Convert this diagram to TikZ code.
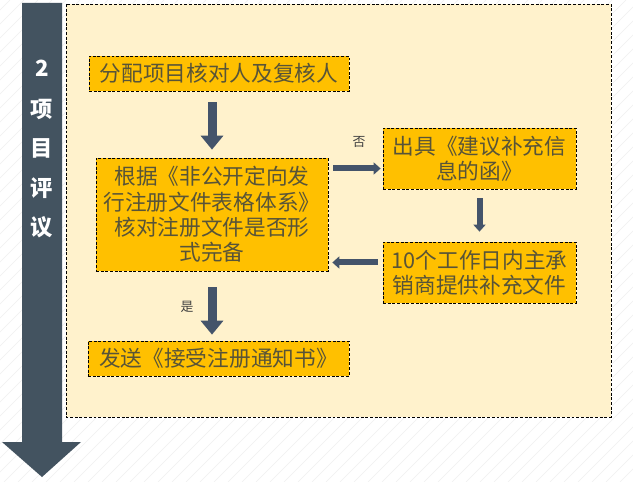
\documentclass[tikz,border=0pt]{standalone}
\usepackage{fontspec}
\setmainfont{Noto Sans CJK SC}
\usetikzlibrary{arrows.meta}
\definecolor{panel}{HTML}{FFF2CC}
\definecolor{boxfill}{HTML}{FFC000}
\definecolor{slate}{HTML}{44546A}
\definecolor{sidec}{HTML}{435360}
\definecolor{txt}{HTML}{585438}
\begin{document}
\begin{tikzpicture}[x=0.03cm,y=-0.03cm,
  box/.style={draw=black,line width=0.6pt,dash pattern=on 2.5pt off 1.5pt,fill=boxfill,text=txt,
    font=\fontsize{18.5}{21.7}\selectfont,align=center,inner sep=0pt},
  bigarrow/.style={draw=slate,line width=0.27cm,-{Triangle[width=0.66cm,length=0.42cm]}},
  smallarrow/.style={draw=slate,line width=0.18cm,-{Triangle[width=0.36cm,length=0.21cm]}},
  lbl/.style={font=\fontsize{11}{13}\selectfont,text=black!75,inner sep=0pt},
  sidetxt/.style={font=\fontsize{19}{21}\selectfont\bfseries,text=white,inner sep=0pt}]
\useasboundingbox (0,0) rectangle (633,482);
\fill[white] (0,0) rectangle (633,482);
\begin{scope}
  \clip (0,0) rectangle (633,482);
  \foreach \k in {-500,-486,...,640} \draw[black!6,line width=0.4pt] (\k,482) -- (\k+482,0);
\end{scope}
% sidebar arrow
\fill[sidec] (22,3) -- (62,3) -- (62,442) -- (81,442) -- (42,477) -- (2,442) -- (22,442) -- cycle;
\node[sidetxt] (s0) at (42,68) {2};
\node[sidetxt] (s1) at (42,109) {项};
\node[sidetxt] (s2) at (42,148) {目};
\node[sidetxt] (s3) at (42,188) {评};
\node[sidetxt] (s4) at (42,227) {议};
% panel
\draw[black,line width=0.5pt,dash pattern=on 2.5pt off 1.5pt,fill=panel] (66,4) rectangle (611,417);
% boxes
\node[box,minimum width=7.8cm,minimum height=1.05cm] (b1) at (219,73.5) {分配项目核对人及复核人};
\node[box,minimum width=6.96cm,minimum height=3.39cm] (b2) at (212,214.5)
  {根据《非公开定向发\\行注册文件表格体系》\\核对注册文件是否形\\式完备};
\node[box,minimum width=5.79cm,minimum height=1.83cm] (b3) at (479.5,158.5) {出具《建议补充信\\息的函》};
\node[box,minimum width=5.79cm,minimum height=1.83cm] (b4) at (479.5,272.5) {10个工作日内主承\\销商提供补充文件};
\node[box,minimum width=7.83cm,minimum height=1.05cm] (b5) at (218.5,358.5) {发送《接受注册通知书》};
% connectors
\draw[bigarrow,shorten <=0.33cm,shorten >=0.24cm] (b2.north |- b1.south) -- (b2.north);
\draw[bigarrow,shorten <=0.48cm,shorten >=0.18cm] (b2.south) -- (b2.south |- b5.north);
\coordinate (r) at ([yshift=-0.3cm]b3.west);
\draw[smallarrow,shorten <=0.15cm,shorten >=0.06cm] (b2.east |- r) -- (r);
\draw[smallarrow,shorten <=0.27cm,shorten >=0.3cm] (b3.south) -- (b4.north);
\coordinate (l) at ([yshift=0.3cm]b4.west);
\draw[smallarrow,shorten <=0.15cm,shorten >=0.12cm] (l) -- (b2.east |- l);
\node[lbl] (no) at (359,142) {否};
\node[lbl] (yes) at (187,307) {是};
\end{tikzpicture}
\end{document}
